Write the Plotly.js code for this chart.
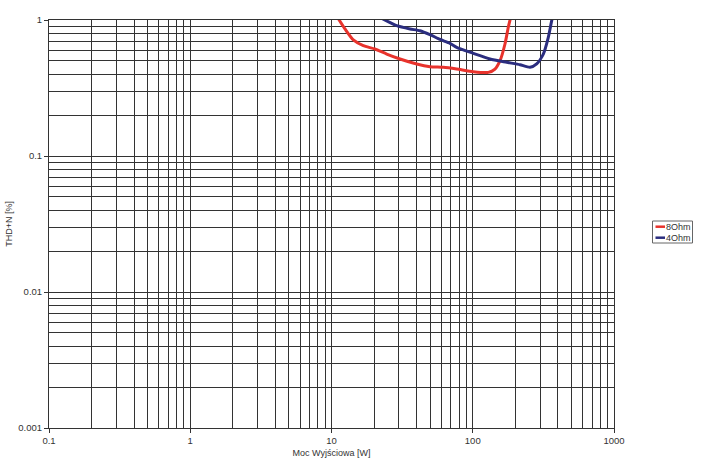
<!DOCTYPE html>
<html><head><meta charset="utf-8">
<script src="https://cdn.plot.ly/plotly-3.0.1.min.js"></script>
<style>html,body{margin:0;padding:0;background:#fff}#c{width:705px;height:467px}</style>
</head><body><div id="c"></div>
<script>
const x8 = [11.0, 12.46, 14.27, 16.79, 20.32, 24.59, 30.55, 40.1, 49.8, 61.9, 76.9, 100.9, 128.8, 143.7, 156.0, 169.1, 178.5, 185.6];
const y8 = [1.05, 0.859, 0.713, 0.647, 0.612, 0.562, 0.517, 0.475, 0.454, 0.449, 0.436, 0.417, 0.412, 0.436, 0.502, 0.666, 0.884, 1.047];
const x4 = [22.6, 28.94, 35.96, 42.31, 49.8, 58.7, 69.0, 76.9, 100.9, 132.4, 173.9, 216.0, 254.2, 283.6, 315.9, 342.7, 362.2, 368.0];
const y4 = [1.03, 0.908, 0.859, 0.834, 0.780, 0.719, 0.674, 0.630, 0.569, 0.517, 0.489, 0.469, 0.449, 0.475, 0.562, 0.746, 0.988, 1.05];
const xTicks = [0.1, 1, 10, 100, 1000];
const xTickText = ['0.1', '1', '10', '100', '1000'];
const yTicks = [0.001, 0.01, 0.1, 1];
const yTickText = ['0.001', '0.01', '0.1', '1'];
const names = ['8Ohm', '4Ohm'];
const colors = ['#e8332c', '#2b2d7f'];

const gridc = '#333';
const fam = 'Liberation Sans, Arial, sans-serif';
const M = {l: 49, r: 91, t: 20, b: 39};
const PW = 705 - M.l - M.r, PH = 467 - M.t - M.b;
const px2x = p => (p - M.l) / PW;
const px2y = p => (467 - M.b - p) / PH;

const data = [
  {x: x8, y: y8, name: names[0], mode: 'lines', line: {color: colors[0], width: 3, shape: 'spline', smoothing: 0.6}},
  {x: x4, y: y4, name: names[1], mode: 'lines', line: {color: colors[1], width: 3, shape: 'spline', smoothing: 0.6}}
];
const axCommon = {
  type: 'log', showgrid: true, gridcolor: gridc, gridwidth: 1,
  showline: true, linecolor: gridc, linewidth: 1, mirror: true,
  ticks: 'outside', ticklen: 4, tickcolor: gridc, zeroline: false,
  tickfont: {family: fam, size: 9.5, color: '#333'},
  minor: {dtick: 'D1', showgrid: true, gridcolor: gridc, gridwidth: 1, ticks: ''}
};
// compact legend box like the reference
const shapes = [
  {type: 'rect', xref: 'paper', yref: 'paper', x0: px2x(652.5), x1: px2x(692.5), y0: px2y(221), y1: px2y(243),
   line: {color: '#666', width: 1}, fillcolor: '#fff'}
];
const annotations = [];
const rowY = [226.7, 237.7];
names.forEach((n, i) => {
  shapes.push({type: 'line', xref: 'paper', yref: 'paper', x0: px2x(655.5), x1: px2x(665), y0: px2y(rowY[i]), y1: px2y(rowY[i]),
    line: {color: colors[i], width: 2.5}});
  annotations.push({xref: 'paper', yref: 'paper', x: px2x(665), y: px2y(rowY[i]), xanchor: 'left', yanchor: 'middle',
    text: n, showarrow: false, borderpad: 0, font: {family: fam, size: 9, color: '#333'}});
});
const layout = {
  width: 705, height: 467,
  margin: Object.assign({autoexpand: false}, M),
  paper_bgcolor: '#fff', plot_bgcolor: '#fff',
  showlegend: false,
  shapes: shapes, annotations: annotations,
  xaxis: Object.assign({}, axCommon, {
    range: [-1, 3], tickvals: xTicks, ticktext: xTickText,
    title: {text: 'Moc Wyjściowa [W]', standoff: 4, font: {family: fam, size: 9, color: '#333'}}
  }),
  yaxis: Object.assign({}, axCommon, {
    range: [-3, 0], tickvals: yTicks, ticktext: yTickText,
    title: {text: 'THD+N [%]', standoff: 4, font: {family: fam, size: 9, color: '#333'}}
  })
};
Plotly.newPlot('c', data, layout, {displayModeBar: false, staticPlot: true});
</script>
</body></html>
